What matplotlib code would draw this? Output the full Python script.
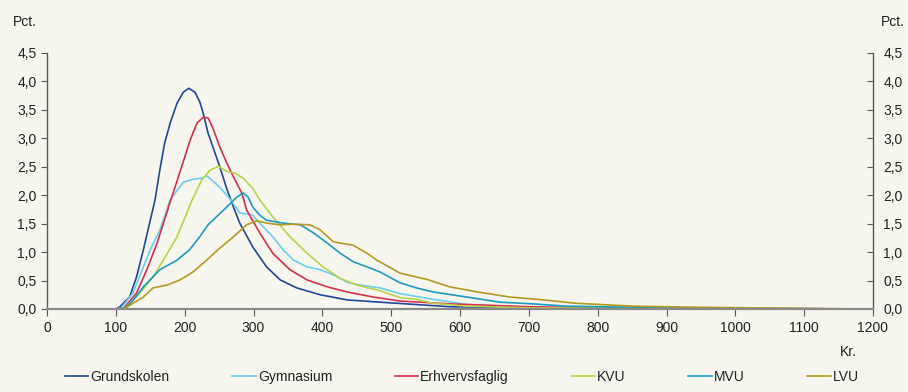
import matplotlib
matplotlib.use("Agg")
import matplotlib.pyplot as plt
import matplotlib.lines as mlines
from matplotlib.ticker import FuncFormatter, MultipleLocator

plt.rcParams['font.family'] = ['Liberation Sans', 'DejaVu Sans']

# ---- data (kr, pct) ----
grund_x = [0,100,106,120,130,140,150,157,164,171,179,189,198,206,215,222,227,234,241,251,261,271,280,299,319,339,363,397,436,484,585,700,800,1000,1200]
grund_y = [0,0,0.04,0.21,0.56,1.04,1.56,1.92,2.45,2.92,3.27,3.62,3.81,3.88,3.81,3.64,3.44,3.09,2.85,2.5,2.12,1.79,1.51,1.09,0.74,0.51,0.37,0.25,0.16,0.12,0.04,0.02,0.01,0,0]

gym_x = [0,100,108,125,140,150,164,179,198,212,225,232,241,251,261,268,280,299,309,328,343,358,378,397,416,436,455,484,513,561,610,658,750,900,1200]
gym_y = [0,0,0.02,0.28,0.74,1.04,1.39,1.92,2.23,2.28,2.30,2.34,2.25,2.14,2.0,1.9,1.69,1.65,1.51,1.27,1.04,0.86,0.74,0.69,0.6,0.47,0.42,0.37,0.27,0.17,0.08,0.05,0.02,0.01,0]

erhv_x = [0,100,112,130,145,160,174,180,194,208,218,227,234,241,251,261,273,283,290,309,328,353,378,407,436,474,513,585,700,800,1000,1200]
erhv_y = [0,0,0.02,0.28,0.69,1.16,1.69,1.92,2.44,2.97,3.27,3.37,3.36,3.18,2.85,2.57,2.27,2.04,1.74,1.34,0.98,0.69,0.51,0.39,0.30,0.21,0.14,0.09,0.04,0.02,0.01,0]

kvu_x = [0,100,114,135,154,169,189,211,225,237,249,261,273,285,299,309,328,353,378,401,426,450,484,513,537,561,610,700,900,1200]
kvu_y = [0,0,0.02,0.28,0.56,0.86,1.27,1.92,2.27,2.44,2.51,2.42,2.39,2.30,2.12,1.92,1.62,1.27,0.98,0.74,0.54,0.42,0.32,0.20,0.17,0.10,0.05,0.02,0.01,0]

mvu_x = [0,100,114,125,140,164,189,207,222,234,241,261,276,285,292,299,309,319,343,368,387,407,426,445,465,484,513,537,561,610,658,706,755,803,900,1000,1200]
mvu_y = [0,0,0.02,0.15,0.39,0.69,0.86,1.04,1.27,1.48,1.56,1.79,1.97,2.04,1.97,1.79,1.65,1.56,1.51,1.48,1.34,1.16,0.98,0.83,0.74,0.65,0.46,0.37,0.30,0.21,0.12,0.09,0.05,0.04,0.02,0.01,0]

lvu_x = [0,100,114,140,154,174,193,212,232,251,271,290,305,319,339,358,382,397,416,445,465,479,513,552,585,625,673,721,769,851,950,1100,1200]
lvu_y = [0,0,0.02,0.21,0.37,0.42,0.51,0.65,0.86,1.07,1.27,1.48,1.55,1.51,1.48,1.49,1.48,1.39,1.18,1.12,0.98,0.86,0.63,0.52,0.39,0.30,0.21,0.16,0.10,0.05,0.03,0.01,0]

series = [
    ("Grundskolen", grund_x, grund_y, "#21479A"),
    ("Gymnasium", gym_x, gym_y, "#6CCDEE"),
    ("Erhvervsfaglig", erhv_x, erhv_y, "#D7304C"),
    ("KVU", kvu_x, kvu_y, "#B8D448"),
    ("MVU", mvu_x, mvu_y, "#1B9BBF"),
    ("LVU", lvu_x, lvu_y, "#B49A22"),
]

bg = "#F6F5EE"
fig = plt.figure(figsize=(9.08, 3.92), dpi=100, facecolor=bg)
ax = fig.add_axes([47/908, 1-309/392, (873-47)/908, (309-53)/392])
ax.set_facecolor(bg)

for name, xs, ys, c in series:
    ax.plot(xs, ys, color=c, lw=1.2, label=name)

ax.set_xlim(0, 1200)
ax.set_ylim(0, 4.5)
ax.xaxis.set_major_locator(MultipleLocator(100))
ax.yaxis.set_major_locator(MultipleLocator(0.5))
fmt = FuncFormatter(lambda v, p: f"{v:.1f}".replace(".", ","))
ax.yaxis.set_major_formatter(fmt)

ax.spines["top"].set_visible(False)
for s in ["left", "right", "bottom"]:
    ax.spines[s].set_color("#5a5a5a")
    ax.spines[s].set_linewidth(1.0)
ax.spines["bottom"].set_color("#8a8a8a")
ax.spines["bottom"].set_linewidth(1.6)

ax.tick_params(axis="x", direction="out", length=5, color="#5a5a5a", labelsize=10, labelcolor="#222222", pad=4)
ax.tick_params(axis="y", which="both", left=True, right=True, labelleft=True, labelright=True,
               direction="out", length=4, color="#5a5a5a", labelsize=10, labelcolor="#222222")
for t in ax.yaxis.get_major_ticks():
    t.tick2line.set_marker(mlines.TICKLEFT)

fig.text(25/908, 1-22/392, "Pct.", ha="center", va="center", fontsize=10, color="#222222")
fig.text(893/908, 1-22/392, "Pct.", ha="center", va="center", fontsize=10, color="#222222")
fig.text(848/908, 1-352/392, "Kr.", ha="center", va="center", fontsize=10, color="#222222")

leg = fig.legend(loc="center", bbox_to_anchor=(462/908, 1-377/392), ncol=6, frameon=False,
                 fontsize=10, handlelength=1.7, handletextpad=0.15, columnspacing=4.5)
for txt in leg.get_texts():
    txt.set_color("#222222")

fig.savefig("out.png", dpi=100, facecolor=bg)
